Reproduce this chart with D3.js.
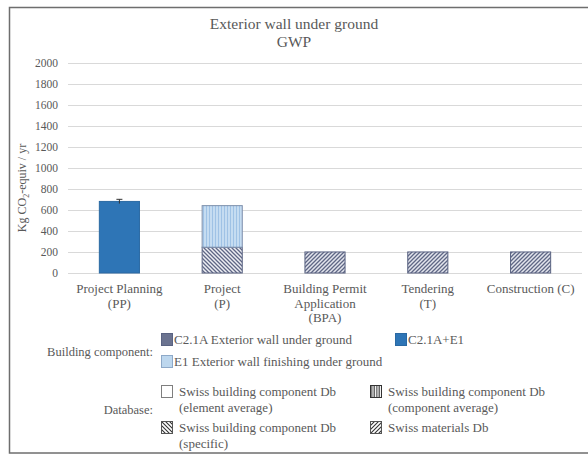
<!DOCTYPE html>
<html>
<head>
<meta charset="utf-8">
<script src="https://cdn.jsdelivr.net/npm/d3@7"></script>
<style>
  html, body { margin: 0; padding: 0; background: #fff; }
</style>
</head>
<body>
<svg id="chart" width="588" height="455" style='font-family: "Liberation Serif", serif;'></svg>
<script>
// Planning stages (category axis), each label split into lines
const stages = ["PP", "P", "BPA", "T", "C"];
const stageLabels = [
  ["Project Planning", "(PP)"],
  ["Project", "(P)"],
  ["Building Permit", "Application", "(BPA)"],
  ["Tendering", "(T)"],
  ["Construction (C)"]
];

// GWP values, kg CO2-equiv / yr, per stage
const c21aE1ElementAvg = [680, 0, 0, 0, 0];     // C2.1A+E1, element average
const c21aE1Error      = [20, 0, 0, 0, 0];
const c21aSpecific     = [0, 245, 0, 0, 0];     // C2.1A, building component Db (specific)
const e1ComponentAvg   = [0, 395, 0, 0, 0];     // E1, building component Db (component average)
const c21aMaterials    = [0, 0, 200, 200, 200]; // C2.1A, Swiss materials Db

const yTicks = [0, 200, 400, 600, 800, 1000, 1200, 1400, 1600, 1800, 2000];

const FONT = '"Liberation Serif", serif';
const GREY = "#595959";
const svg = d3.select("#chart");
const W = 588;
const plot = { left: 68, right: 582, top: 62.5, bottom: 273 };

// Outer frame
svg.append("rect")
  .attr("x", 9.5).attr("y", 7.5)
  .attr("width", W + 10).attr("height", 445.5)
  .attr("fill", "#fff").attr("stroke", "#6e6e6e").attr("stroke-width", 1.5);

// Fill patterns
const defs = svg.append("defs");
const slate = "#5f6785";

function hatch(id, bg, fg, dir, sw) {
  const p = defs.append("pattern")
    .attr("id", id).attr("patternUnits", "userSpaceOnUse")
    .attr("width", 4).attr("height", 4);
  p.append("rect").attr("width", 4).attr("height", 4).attr("fill", bg);
  const d = dir === "fwd"
    ? "M-1,1 L1,-1 M0,4 L4,0 M3,5 L5,3"
    : "M-1,3 L1,5 M0,0 L4,4 M3,-1 L5,1";
  p.append("path").attr("d", d).attr("stroke", fg).attr("stroke-width", sw);
}
hatch("pat-fwd", "#e3e5ed", slate, "fwd", 1.3);     // Swiss materials Db
hatch("pat-back", "#eeeff4", slate, "back", 1.3);   // building component Db (specific)
hatch("pat-fwd-bw", "#fff", "#333", "fwd", 1.1);
hatch("pat-back-bw", "#fff", "#333", "back", 1.1);

const vp = defs.append("pattern")
  .attr("id", "pat-vert-blue").attr("patternUnits", "userSpaceOnUse")
  .attr("width", 3).attr("height", 4);
vp.append("rect").attr("width", 3).attr("height", 4).attr("fill", "#c5dcf1");
vp.append("rect").attr("x", 2).attr("width", 1).attr("height", 4).attr("fill", "#9fc2e5");

const vpLegend = defs.append("pattern")
  .attr("id", "pat-vert").attr("patternUnits", "userSpaceOnUse")
  .attr("width", 2.5).attr("height", 4);
vpLegend.append("rect").attr("width", 2.5).attr("height", 4).attr("fill", "#fff");
vpLegend.append("rect").attr("x", 1.2).attr("width", 1.1).attr("height", 4).attr("fill", "#333");

// Scales
const x = d3.scaleBand().domain(stages)
  .range([plot.left, plot.right]).paddingInner(0.6).paddingOuter(0.3);
const y = d3.scaleLinear().domain([0, 2000]).range([plot.bottom, plot.top]);

// Grid lines
svg.append("g").selectAll("line").data(yTicks).join("line")
  .attr("x1", plot.left).attr("x2", plot.right)
  .attr("y1", d => Math.round(y(d)) + 0.5).attr("y2", d => Math.round(y(d)) + 0.5)
  .attr("stroke", "#d9d9d9").attr("stroke-width", 1);

// Y axis labels
const yAxis = svg.append("g").attr("transform", `translate(${plot.left},0)`)
  .call(d3.axisLeft(y).tickValues(yTicks).tickFormat(d3.format("d")).tickSize(0).tickPadding(10));
yAxis.attr("font-family", null).attr("font-size", null);
yAxis.select(".domain").remove();
yAxis.selectAll("text")
  .style("font-family", FONT).style("font-size", "11.5px").attr("fill", GREY);

// Y axis title
svg.append("text")
  .attr("transform", "translate(26,188) rotate(-90)")
  .attr("text-anchor", "middle")
  .style("font-family", FONT).style("font-size", "12px").attr("fill", GREY)
  .call(t => {
    t.append("tspan").text("Kg CO");
    t.append("tspan").text("2").attr("dy", 3).style("font-size", "8px");
    t.append("tspan").text("-equiv / yr").attr("dy", -3);
  });

// Stacked bars
const rows = stages.map((s, i) => ({
  stage: s,
  elementAvg: c21aE1ElementAvg[i],
  specific: c21aSpecific[i],
  componentAvg: e1ComponentAvg[i],
  materials: c21aMaterials[i]
}));
const keys = ["elementAvg", "specific", "componentAvg", "materials"];
const fills = {
  elementAvg: "#2e75b6",
  specific: "url(#pat-back)",
  componentAvg: "url(#pat-vert-blue)",
  materials: "url(#pat-fwd)"
};
const strokes = {
  elementAvg: "#2a69a3",
  specific: "#5a6382",
  componentAvg: "#7d8fab",
  materials: "#5a6382"
};
const stacked = d3.stack().keys(keys)(rows);
svg.append("g").selectAll("g").data(stacked).join("g")
  .each(function(series) {
    d3.select(this).selectAll("rect")
      .data(series.filter(d => d[1] - d[0] > 0))
      .join("rect")
      .attr("x", d => x(d.data.stage) + 0.5)
      .attr("width", x.bandwidth() - 1)
      .attr("y", d => y(d[1]))
      .attr("height", d => y(d[0]) - y(d[1]))
      .attr("fill", fills[series.key])
      .attr("stroke", strokes[series.key])
      .attr("stroke-width", 1);
  });

// Error bar on the element-average bar
const errG = svg.append("g");
stages.forEach((s, i) => {
  if (!c21aE1Error[i]) return;
  const cx = x(s) + x.bandwidth() / 2;
  const v = c21aE1ElementAvg[i], e = c21aE1Error[i];
  errG.append("line").attr("x1", cx).attr("x2", cx)
    .attr("y1", y(v - e)).attr("y2", y(v + e))
    .attr("stroke", "#333").attr("stroke-width", 1);
  errG.append("line").attr("x1", cx - 3).attr("x2", cx + 3)
    .attr("y1", y(v + e)).attr("y2", y(v + e))
    .attr("stroke", "#333").attr("stroke-width", 1);
});

// Category labels
svg.append("g").selectAll("text").data(stages).join("text")
  .attr("text-anchor", "middle")
  .style("font-family", FONT).style("font-size", "13px").attr("fill", GREY)
  .each(function(s, i) {
    const cx = x(s) + x.bandwidth() / 2;
    d3.select(this).selectAll("tspan").data(stageLabels[i]).join("tspan")
      .attr("x", cx).attr("y", (d, j) => 293 + j * 14.5).text(d => d);
  });

// Title
const titleG = svg.append("g").attr("text-anchor", "middle")
  .style("font-family", FONT).style("font-size", "15.5px");
titleG.append("text").attr("x", 294).attr("y", 29).attr("fill", GREY)
  .text("Exterior wall under ground");
titleG.append("text").attr("x", 294).attr("y", 47).attr("fill", GREY)
  .text("GWP");

// Legend
const legend = svg.append("g").style("font-family", FONT).style("font-size", "13px");
legend.append("text").attr("x", 153).attr("y", 356).attr("text-anchor", "end")
  .style("font-size", "12.5px").attr("fill", GREY).text("Building component:");
legend.append("text").attr("x", 153).attr("y", 414).attr("text-anchor", "end")
  .style("font-size", "12.5px").attr("fill", GREY).text("Database:");

const compItems = [
  { fill: "#6b7390", stroke: "#5a6382", x: 161, y: 333, lines: ["C2.1A Exterior wall under ground"] },
  { fill: "#2e75b6", stroke: "#2a69a3", x: 395, y: 333, lines: ["C2.1A+E1"] },
  { fill: "#bdd7ee", stroke: "#8ea9c8", x: 161, y: 355, lines: ["E1 Exterior wall finishing under ground"] }
];
const dbItems = [
  { fill: "#fff", stroke: "#7f7f7f", x: 161, y: 385, lines: ["Swiss building component Db", "(element average)"] },
  { fill: "url(#pat-vert)", stroke: "#333", x: 370, y: 385, lines: ["Swiss building component Db", "(component average)"] },
  { fill: "url(#pat-back-bw)", stroke: "#555", x: 161, y: 421, lines: ["Swiss building component Db", "(specific)"] },
  { fill: "url(#pat-fwd-bw)", stroke: "#555", x: 370, y: 421, lines: ["Swiss materials Db"] }
];
function drawItems(items, textGap) {
  items.forEach(it => {
    legend.append("rect").attr("x", it.x + 0.5).attr("y", it.y + 0.5)
      .attr("width", 11).attr("height", 12)
      .attr("fill", it.fill).attr("stroke", it.stroke).attr("stroke-width", 1);
    const t = legend.append("text").attr("fill", GREY);
    it.lines.forEach((l, j) => {
      t.append("tspan").attr("x", it.x + textGap).attr("y", it.y + 10.5 + j * 16.5).text(l);
    });
  });
}
drawItems(compItems, 13);
drawItems(dbItems, 18);
</script>
</body>
</html>
